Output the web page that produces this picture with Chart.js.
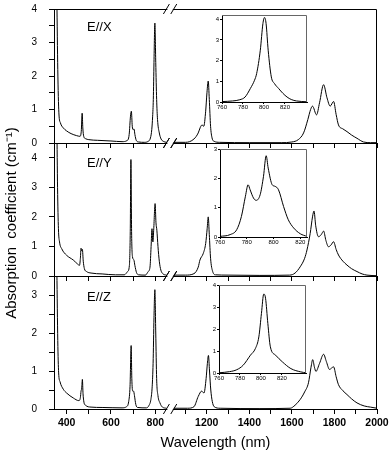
<!DOCTYPE html>
<html>
<head>
<meta charset="utf-8">
<script src="https://cdn.jsdelivr.net/npm/chart.js@4"></script>
<style>
  body { margin: 0; background: #fff; }
  #wrap { position: relative; width: 392px; height: 456px; }
  #wrap canvas { position: absolute; }
</style>
</head>
<body>
<div id="wrap">
  <canvas id="panelX" width="392" height="456" style="left:0;top:0"></canvas>
  <canvas id="panelY" width="392" height="456" style="left:0;top:0"></canvas>
  <canvas id="panelZ" width="392" height="456" style="left:0;top:0"></canvas>
  <canvas id="insetX" width="110" height="106" style="left:204px;top:9px"></canvas>
  <canvas id="insetY" width="112" height="106" style="left:202px;top:143px"></canvas>
  <canvas id="insetZ" width="112" height="106" style="left:201px;top:279px"></canvas>
</div>
<script>
// -------------------------
// Data (wavelength in nm, absorption in cm-1)
// -------------------------
const xMajor = [400, 600, 800, 1200, 1400, 1600, 1800, 2000];
const xMinor = [500, 700, 1100, 1300, 1500, 1700, 1900];
const insetTicks = [760, 780, 800, 820];

// E//X
const waveX = [350, 356, 360, 365, 372, 385, 400, 420, 445, 460, 466, 470, 473, 477, 485, 500, 540, 600, 650, 672,
  682, 688, 692, 696, 700, 704, 708, 714, 725, 750, 768, 778, 784, 788, 791, 794, 798, 802, 806, 810, 818, 826, 836, 850,
  1045, 1100, 1140, 1160, 1170, 1178, 1186, 1195, 1201, 1207, 1212, 1218, 1225, 1235, 1260, 1400, 1550, 1600, 1630, 1655,
  1675, 1688, 1697, 1716, 1730, 1749, 1765, 1780, 1796, 1808, 1819, 1840, 1859, 1880, 1906, 1937, 1970, 2000];
const absX = [6, 4.2, 2.2, 0.9, 0.6, 0.45, 0.36, 0.28, 0.22, 0.2, 0.35, 0.89, 0.45, 0.2, 0.13, 0.1, 0.08, 0.06, 0.04, 0.07,
  0.25, 0.8, 0.95, 0.5, 0.4, 0.42, 0.25, 0.08, 0.03, 0.02, 0.05, 0.15, 0.4, 0.8, 1.3, 2.4, 3.58, 2.4, 1.3, 0.7, 0.3, 0.12, 0.05, 0.02,
  0.02, 0.02, 0.12, 0.3, 0.47, 0.54, 0.5, 0.95, 1.5, 1.85, 1.3, 0.5, 0.15, 0.05, 0.02, 0.01, 0.01, 0.03, 0.1, 0.3,
  0.7, 1.0, 1.1, 0.84, 1.2, 1.74, 1.35, 1.1, 1.24, 0.85, 0.54, 0.42, 0.34, 0.24, 0.14, 0.03, 0.01, 0.01];

// E//Y
const waveY = [350, 356, 359, 363, 368, 378, 400, 430, 450, 458, 462, 465, 468, 471, 475, 480, 490, 510, 560, 620,
  660, 675, 683, 687, 690, 693, 697, 703, 708, 715, 725, 755, 768, 776, 781, 785, 789, 793, 799, 803,
  807, 812, 818, 825, 835, 850,
  1045, 1100, 1140, 1160, 1168, 1184, 1195, 1202, 1207, 1212, 1218, 1228, 1241, 1300, 1450, 1590, 1615, 1639, 1660, 1671,
  1686, 1697, 1704, 1712, 1725, 1738, 1749, 1760, 1772, 1784, 1796, 1808, 1819, 1840, 1859, 1880, 1906, 1930, 1953, 2000];
const absY = [7, 5, 3.0, 1.6, 1.15, 0.92, 0.7, 0.54, 0.4, 0.36, 0.6, 0.94, 0.85, 0.9, 0.5, 0.25, 0.15, 0.1, 0.07, 0.04,
  0.04, 0.15, 0.35, 1.5, 3.94, 1.5, 0.65, 0.55, 0.35, 0.12, 0.04, 0.03, 0.15, 0.3, 1.0, 1.6, 1.15, 1.6, 2.45, 1.8,
  1.55, 1.0, 0.5, 0.2, 0.07, 0.03,
  0.03, 0.03, 0.08, 0.3, 0.54, 0.77, 1.1, 1.6, 2.0, 1.4, 0.6, 0.15, 0.04, 0.03, 0.02, 0.03, 0.1, 0.31, 0.6, 0.88,
  1.44, 2.0, 2.2, 1.7, 1.33, 1.4, 1.52, 1.2, 0.99, 1.05, 1.16, 0.9, 0.71, 0.5, 0.37, 0.25, 0.15, 0.07, 0.03, 0.01];

// E//Z
const waveZ = [350, 356, 360, 364, 370, 385, 400, 430, 455, 462, 465, 468, 471, 474, 478, 485, 510, 560, 650, 670,
  680, 686, 691, 694, 698, 702, 706, 712, 720, 760, 772, 780, 786, 790, 794, 798, 802, 806, 812, 821, 832, 850,
  1045, 1110, 1140, 1160, 1176, 1187, 1197, 1203, 1208, 1213, 1219, 1226, 1235, 1263, 1450, 1592, 1615, 1639, 1660, 1678,
  1690, 1698, 1706, 1713, 1730, 1749, 1762, 1777, 1787, 1796, 1808, 1819, 1840, 1859, 1880, 1906, 1940, 1969, 2000];
const absZ = [6, 3.6, 1.8, 0.95, 0.72, 0.52, 0.42, 0.29, 0.22, 0.3, 0.47, 0.55, 0.78, 0.4, 0.18, 0.1, 0.05, 0.04, 0.03, 0.06,
  0.2, 0.6, 1.67, 0.8, 0.47, 0.47, 0.35, 0.12, 0.04, 0.03, 0.1, 0.25, 0.6, 1.2, 2.4, 3.14, 2.0, 0.8, 0.35, 0.16, 0.05, 0.02,
  0.02, 0.02, 0.06, 0.33, 0.47, 0.42, 0.8, 1.2, 1.41, 1.0, 0.5, 0.2, 0.06, 0.02, 0.01, 0.02, 0.1, 0.25, 0.45, 0.69,
  1.1, 1.3, 1.1, 0.99, 1.2, 1.44, 1.25, 1.04, 1.08, 1.11, 0.85, 0.64, 0.48, 0.38, 0.27, 0.16, 0.08, 0.05, 0.02];

// insets (zoom on the 3H4 band)
const insetWaveX = [760, 770, 777, 782, 787, 791, 793, 796.5, 799, 800.5, 802, 804, 807, 810, 814, 818, 822, 826, 831, 841];
const insetAbsX = [0.02, 0.05, 0.11, 0.24, 0.65, 1.05, 1.37, 2.5, 3.79, 4.08, 3.79, 2.5, 1.21, 0.89, 0.65, 0.42, 0.24, 0.12, 0.05, 0.01];
const insetWaveY = [760, 767.5, 772.5, 776, 779, 781, 782.5, 785, 787, 790, 792.5, 794.5, 796, 799, 801, 803.7, 807.5, 811, 815, 820, 825];
const insetAbsY = [0.02, 0.08, 0.25, 0.7, 1.39, 1.78, 1.61, 1.33, 1.25, 1.44, 2.07, 2.77, 2.35, 1.78, 1.73, 1.61, 1.04, 0.59, 0.31, 0.11, 0.02];
const insetWaveZ = [760, 770, 777, 783, 790, 794.7, 798, 800.5, 802.7, 804.4, 806.6, 809, 814, 820.6, 828.6, 838, 843];
const insetAbsZ = [0.01, 0.06, 0.15, 0.35, 0.81, 1.11, 1.64, 2.71, 3.59, 3.4, 2.25, 1.19, 0.81, 0.5, 0.2, 0.05, 0.01];
// -------------------------

const FONT = '"Liberation Sans", Arial, sans-serif';
Chart.defaults.font.family = FONT;
Chart.defaults.color = '#000';

// broken axis: everything above breakFrom is squeezed in after the gap
const breakFrom = 850, breakTo = 1045;
function toAxis(w) { return w <= breakFrom ? w : 1032 + (w - 1200) * 0.96; }
function fromAxis(v) { return v <= breakFrom ? v : 1200 + (v - 1032) / 0.96; }

// box, break marks and labels
const framePlugin = {
  id: 'frame',
  afterDatasetsDraw(chart, args, o) {
    const { ctx, chartArea: a } = chart;
    ctx.save();
    ctx.lineWidth = 1;
    ctx.strokeStyle = o.color || '#000';
    ctx.beginPath();
    ctx.moveTo(a.left, a.top + 0.5);
    ctx.lineTo(a.right - 0.5, a.top + 0.5);
    ctx.lineTo(a.right - 0.5, a.bottom);
    ctx.stroke();

    if (o.broken) {
      const sx = chart.scales.x;
      const xa = sx.getPixelForValue(toAxis(breakFrom));
      const xb = sx.getPixelForValue(toAxis(breakTo));
      ctx.strokeStyle = '#000';
      [a.top, a.bottom].forEach(y => {
        ctx.fillStyle = '#fff';
        ctx.fillRect(xa + 1, y - 2, xb - xa - 2, 4);
        ctx.beginPath();
        [xa, xb].forEach(x => { ctx.moveTo(x - 3, y + 5); ctx.lineTo(x + 3, y - 5); });
        ctx.stroke();
      });
    }

    if (o.label) {
      ctx.fillStyle = '#000';
      ctx.font = '13px ' + FONT;
      ctx.textBaseline = 'middle';
      ctx.textAlign = 'left';
      ctx.fillText(o.label, a.left + 33, a.top + o.labelY);
    }

    if (o.yTitle) {
      ctx.translate(12, 223);
      ctx.rotate(-Math.PI / 2);
      ctx.fillStyle = '#000';
      ctx.font = '15px ' + FONT;
      ctx.textAlign = 'center';
      ctx.textBaseline = 'middle';
      ctx.fillText(o.yTitle, 0, 0);
    }
    ctx.restore();
  }
};

function makePanel(id, wave, vals, yMax, top, bottom, label, labelY, last, yTitle) {
  const pts = [];
  wave.forEach((w, i) => {
    if (i > 0 && wave[i - 1] <= breakFrom && w > breakFrom) {
      pts.push({ x: (toAxis(breakFrom) + toAxis(w)) / 2, y: null });
    }
    pts.push({ x: toAxis(w), y: vals[i] });
  });

  return new Chart(document.getElementById(id), {
    type: 'line',
    data: {
      datasets: [{
        data: pts,
        borderColor: '#000',
        borderWidth: 1,
        pointRadius: 0,
        cubicInterpolationMode: 'monotone',
        fill: false
      }]
    },
    options: {
      responsive: false,
      animation: false,
      events: [],
      layout: { padding: { top: top, right: 392 - 377, left: 0, bottom: 0 } },
      plugins: {
        legend: { display: false },
        tooltip: { enabled: false },
        frame: { broken: true, label: label, labelY: labelY, yTitle: yTitle }
      },
      scales: {
        x: {
          type: 'linear',
          min: 343,
          max: toAxis(2000),
          afterBuildTicks: s => {
            s.ticks = xMajor.concat(xMinor).sort((a, b) => a - b).map(w => ({ value: toAxis(w) }));
          },
          afterFit: s => { s.height = 456 - bottom; },
          grid: { drawOnChartArea: false, tickLength: 5, color: '#000' },
          border: { color: '#000', width: 1 },
          ticks: {
            autoSkip: false,
            maxRotation: 0,
            padding: 3,
            font: { size: 10.5, weight: 'bold' },
            callback: v => {
              const w = Math.round(fromAxis(v));
              return last && xMajor.includes(w) ? String(w) : '';
            }
          },
          title: {
            display: last,
            text: 'Wavelength (nm)',
            font: { size: 14.5 },
            padding: { top: 0, bottom: 4 }
          }
        },
        y: {
          min: 0,
          max: yMax,
          afterFit: s => {
            s.width = 54;
            // the big label padding should not push the plot area down
            s.paddingTop = 0;
            s.paddingBottom = 0;
          },
          grid: { drawOnChartArea: false, tickLength: 5, color: '#000' },
          border: { color: '#000', width: 1 },
          ticks: {
            stepSize: 0.5,
            padding: 12,
            font: { size: 10 },
            callback: v => Number.isInteger(v) ? String(v) : ''
          }
        }
      }
    },
    plugins: [framePlugin]
  });
}

function makeInset(id, wave, vals, xMax, yMax, box, cb) {
  return new Chart(document.getElementById(id), {
    type: 'line',
    data: {
      datasets: [{
        data: wave.map((w, i) => ({ x: w, y: vals[i] })),
        borderColor: '#000',
        borderWidth: 1,
        pointRadius: 0,
        cubicInterpolationMode: 'monotone',
        fill: false
      }]
    },
    options: {
      responsive: false,
      animation: false,
      events: [],
      layout: { padding: { top: box.t - cb.t, right: cb.l + cb.w - box.r, left: 0, bottom: 0 } },
      plugins: {
        legend: { display: false },
        tooltip: { enabled: false },
        frame: { color: '#666' }
      },
      scales: {
        x: {
          type: 'linear',
          min: 760,
          max: xMax,
          afterBuildTicks: s => { s.ticks = insetTicks.map(v => ({ value: v })); },
          afterFit: s => { s.height = cb.t + cb.h - box.b; },
          grid: { drawOnChartArea: false, tickLength: 2, color: '#000' },
          border: { color: '#000', width: 1 },
          ticks: { autoSkip: false, maxRotation: 0, padding: 0, font: { size: 6 } }
        },
        y: {
          min: 0,
          max: yMax,
          afterFit: s => { s.width = box.l - cb.l; },
          grid: { drawOnChartArea: false, tickLength: 2, color: '#000' },
          border: { color: '#000', width: 1 },
          ticks: { stepSize: 1, includeBounds: false, padding: 1, font: { size: 6 } }
        }
      }
    },
    plugins: [framePlugin]
  });
}

makePanel('panelX', waveX, absX, 4, 9, 143, 'E//X', 18, false, null);
makePanel('panelY', waveY, absY, 4.5, 143, 276, 'E//Y', 20, false, 'Absorption  coefficient (cm\u207B\u00B9)');
makePanel('panelZ', waveZ, absZ, 3.5, 276, 409, 'E//Z', 21, true, null);

makeInset('insetX', insetWaveX, insetAbsX, 841, 4.2, { l: 222, t: 15, r: 307, b: 102 }, { l: 204, t: 9, w: 110, h: 106 });
makeInset('insetY', insetWaveY, insetAbsY, 825, 3, { l: 220, t: 149, r: 307, b: 237 }, { l: 202, t: 143, w: 112, h: 106 });
makeInset('insetZ', insetWaveZ, insetAbsZ, 843, 4, { l: 219, t: 285, r: 306, b: 373 }, { l: 201, t: 279, w: 112, h: 106 });
</script>
</body>
</html>
